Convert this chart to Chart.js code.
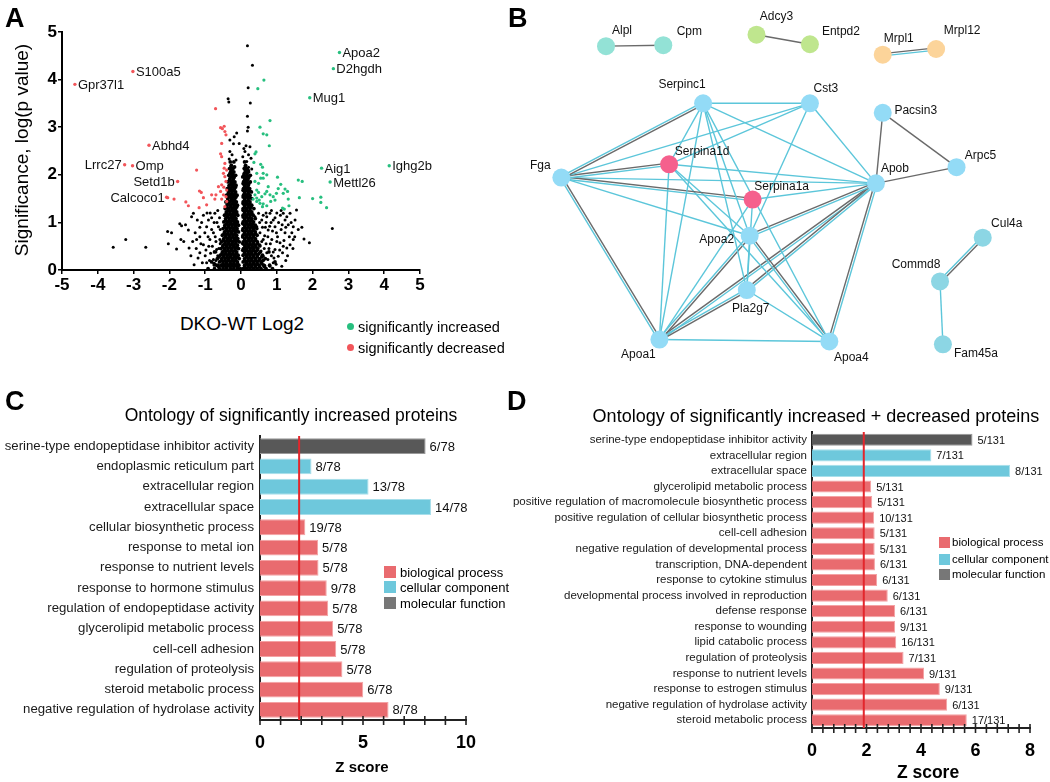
<!DOCTYPE html>
<html>
<head>
<meta charset="utf-8">
<script src="https://cdn.jsdelivr.net/npm/chart.js@4.4.0/dist/chart.umd.min.js"></script>
<style>
body{margin:0;background:#fff;font-family:"Liberation Sans",Arial,sans-serif;color:#000}
#fig{position:relative;width:1050px;height:782px;overflow:hidden}
canvas{position:absolute}
.t{position:absolute;white-space:nowrap;line-height:1}
.c{transform:translate(-50%,-50%)}
.letter{font-weight:bold;font-size:27px}
.sq{position:absolute;width:12px;height:12px}
.dot{position:absolute;width:7px;height:7px;border-radius:50%}
</style>
</head>
<body>
<div id="fig">
  <canvas id="volcano" width="520" height="300" style="left:0;top:0"></canvas>
  <canvas id="network" width="620" height="380" style="left:430px;top:0"></canvas>
  <canvas id="ontoC" width="520" height="412" style="left:0;top:370px"></canvas>
  <canvas id="ontoD" width="550" height="412" style="left:500px;top:370px"></canvas>

  <div class="t letter" style="left:5px;top:5px">A</div>
  <div class="t letter" style="left:508px;top:5px">B</div>
  <div class="t letter" style="left:5px;top:388px">C</div>
  <div class="t letter" style="left:507px;top:388px">D</div>

  <div class="t c" style="left:21px;top:150px;font-size:19px;transform:translate(-50%,-50%) rotate(-90deg)">Significance, log(p value)</div>
  <div class="t c" style="left:242px;top:323px;font-size:19px">DKO-WT Log2</div>
  <div class="dot" style="left:347px;top:323px;background:#27bf7f"></div>
  <div class="t" style="left:358px;top:320px;font-size:14.5px">significantly increased</div>
  <div class="dot" style="left:347px;top:344px;background:#f2555a"></div>
  <div class="t" style="left:358px;top:341px;font-size:14.5px">significantly decreased</div>

  <div class="t c" style="left:291px;top:416px;font-size:17.5px">Ontology of significantly increased proteins</div>
  <div class="t c" style="left:362px;top:766px;font-size:15px;font-weight:bold">Z score</div>
  <div class="sq" style="left:384px;top:566px;background:#e96b6f"></div>
  <div class="t" style="left:400px;top:566px;font-size:13px">biological process</div>
  <div class="sq" style="left:384px;top:581px;background:#6ec8dc"></div>
  <div class="t" style="left:400px;top:581px;font-size:13px">cellular component</div>
  <div class="sq" style="left:384px;top:597px;background:#777"></div>
  <div class="t" style="left:400px;top:597px;font-size:13px">molecular function</div>

  <div class="t c" style="left:816px;top:416px;font-size:18px">Ontology of significantly increased + decreased proteins</div>
  <div class="t c" style="left:928px;top:773px;font-size:17.5px;font-weight:bold">Z score</div>
  <div class="sq" style="left:939px;top:537px;width:11px;height:11px;background:#e96b6f"></div>
  <div class="t" style="left:952px;top:537px;font-size:11.5px">biological process</div>
  <div class="sq" style="left:939px;top:554px;width:11px;height:11px;background:#6ec8dc"></div>
  <div class="t" style="left:952px;top:554px;font-size:11.5px">cellular component</div>
  <div class="sq" style="left:939px;top:569px;width:11px;height:11px;background:#777"></div>
  <div class="t" style="left:952px;top:569px;font-size:11.5px">molecular function</div>
</div>

<script>
// ---------------- panel A : volcano ----------------
const upGenes = ['Apoa2', 'D2hgdh', 'Mug1', 'Aig1', 'Mettl26', 'Ighg2b'];
const upGeneLog2 = [2.75, 2.58, 1.92, 2.25, 2.49, 4.14];
const upGeneSig = [4.57, 4.23, 3.62, 2.14, 1.85, 2.19];
const downGenes = ['S100a5', 'Gpr37l1', 'Abhd4', 'Lrrc27', 'Omp', 'Setd1b', 'Calcoco1'];
const downGeneLog2 = [-3.02, -4.64, -2.57, -3.25, -3.03, -1.77, -2.05];
const downGeneSig = [4.17, 3.90, 2.62, 2.21, 2.19, 1.86, 1.52];

// other significantly increased / decreased proteins [log2, significance]
const upPoints = [[0.64,3.99],[0.47,3.81],[0.81,3.14],[0.53,3.00],[0.62,2.86],[0.72,2.84],[0.79,2.61],[0.42,2.48],
  [0.39,2.44],[0.36,2.26],[0.55,2.22],[0.60,2.16],[0.44,2.03],[0.62,2.03],[0.72,2.00],[0.55,1.93],[0.62,1.93],
  [1.02,1.95],[1.11,1.80],[1.60,1.89],[1.71,1.86],[1.23,1.70],[1.30,1.65],[1.18,1.61],[1.63,1.52],[2.00,1.50],
  [2.23,1.53],[2.23,1.42],[2.39,1.31],[1.32,1.49],[1.34,1.35],[1.16,1.30],[1.21,1.28],[0.44,1.68],[0.49,1.63],
  [0.39,1.58],[0.44,1.51],[0.51,1.47],[0.58,1.54],[0.67,1.60],[0.72,1.65],[0.81,1.58],[0.90,1.54],[0.95,1.47],
  [0.53,1.40],[0.62,1.39],[0.72,1.35],[0.44,1.44],[0.34,1.49],[0.83,1.44],[0.99,1.61],[1.04,1.71],[0.76,1.75],
  [0.39,1.86],[0.49,1.82],[0.60,1.33]];
const downPoints = [[-0.71,3.39],[-0.57,2.99],[-0.52,2.97],[-0.47,3.02],[-0.45,2.91],[-0.42,2.84],[-0.54,2.66],
  [-0.57,2.44],[-0.54,2.38],[-0.45,2.24],[-0.47,2.14],[-0.40,2.10],[-0.49,2.03],[-0.45,1.96],[-0.42,1.86],
  [-0.54,1.79],[-0.48,1.74],[-0.40,1.68],[-0.57,1.65],[-0.49,1.58],[-0.42,1.54],[-0.54,1.49],[-0.40,1.44],
  [-0.45,1.33],[-1.24,2.10],[-1.16,1.66],[-1.11,1.63],[-1.05,1.52],[-0.82,1.58],[-0.70,1.58],[-0.73,1.49],
  [-0.96,1.37],[-1.17,1.31],[-1.47,1.35],[-1.54,1.43],[-1.87,1.49],[-2.08,1.53],[-0.63,1.75]];
// non-significant proteins away from the central cloud
const otherPoints = [[0.18,4.71],[0.32,4.30],[0.20,3.83],[-0.36,3.60],[-0.34,3.53],[0.26,3.51],[0.18,3.23],
  [0.20,3.00],[0.18,2.92],[-0.12,2.88],[-0.19,2.80],[-0.31,2.73],[-0.21,2.65],[-0.05,2.66],[0.14,2.61],[0.25,2.59],
  [-0.31,2.49],[0.11,2.49],[0.21,2.42],[0.05,2.38],[-0.33,2.33],[-0.14,2.31],[0.16,2.28],[0.21,2.16],[-0.21,2.14],
  [-0.26,2.03],[0.28,2.35],[0.08,2.55],[-0.25,2.42],[0.30,2.12],
  [2.55,0.87],[1.91,0.57],[1.76,0.65],[1.55,1.26],[1.51,1.05],[1.46,0.91],[1.37,1.19],[1.28,1.12],[1.23,1.05],
  [1.18,1.19],[1.23,0.78],[1.42,0.78],[1.46,0.64],[1.37,0.53],[1.28,0.46],[1.16,0.36],[1.09,0.57],[0.99,0.78],
  [0.95,0.91],[0.90,1.05],[0.81,1.19],[0.72,1.12],[0.76,0.84],[0.86,0.64],[0.95,0.43],[1.04,0.29],[0.90,0.15],
  [0.81,0.08],[1.14,0.08],[0.62,0.29],[0.72,0.36],[0.53,0.50],[0.62,0.64],[0.53,0.78],[0.44,0.91],[0.58,1.05],
  [0.49,1.19],[0.39,1.12],[1.05,1.00],[1.12,0.85],[1.32,0.95],[1.00,0.60],[0.85,0.30],[0.70,0.55],[0.68,0.90],
  [0.60,0.20],[0.78,0.45],[1.20,0.62],[0.92,0.25],[1.60,0.85],[1.10,1.15],[0.66,0.72],[0.56,0.40],[0.84,1.00],
  [0.98,0.12],[1.30,0.30],[0.55,0.15],[0.65,0.45],[0.75,0.70],[0.88,0.82],[0.70,1.00],[0.60,0.90],[0.95,1.10],
  [1.02,0.70],[1.15,0.95],[1.25,0.90],[1.35,0.70],[1.40,1.00],[1.50,0.70],[1.18,0.50],[1.08,0.42],[0.82,0.55],
  [0.90,0.38],[0.75,0.22],[0.66,0.10],[1.25,0.20],[1.45,0.45],[1.70,0.90],[0.58,0.60],[0.80,0.92],[1.00,1.20],
  [0.70,1.20],[0.62,1.15],[0.85,1.25],[0.52,1.00],[1.12,1.25],
  [-3.57,0.48],[-3.22,0.64],[-2.66,0.48],[-2.05,0.81],[-2.03,0.55],[-1.94,0.78],[-1.80,0.44],[-1.68,0.64],
  [-1.66,0.93],[-1.71,0.97],[-1.47,0.84],[-1.45,0.46],[-1.38,1.12],[-1.33,1.19],[-1.28,0.78],[-1.24,0.64],
  [-1.31,0.11],[-1.15,0.36],[-1.05,0.53],[-1.01,0.78],[-0.96,0.91],[-0.91,1.05],[-0.87,0.64],[-0.77,0.78],
  [-0.73,1.19],[-0.68,0.43],[-0.63,0.91],[-0.59,0.64],[-0.77,0.22],[-0.96,0.15],[-0.63,0.11],[-1.10,1.00],
  [-0.85,0.35],[-1.20,0.25],[-0.70,0.60],[-0.82,1.10],[-1.00,0.30],[-0.90,0.50],[-0.75,1.00],[-1.15,0.70],
  [-0.65,0.30],[-1.40,0.30],[-0.95,1.20],[-0.60,1.10],[-0.70,0.20],[-1.25,0.45],[-0.55,0.20],[-0.62,0.45],
  [-0.72,0.70],[-0.82,0.85],[-0.67,1.00],[-0.58,0.85],[-0.88,0.20],[-1.08,0.15],[-0.92,0.70],[-1.15,0.90],
  [-1.22,1.05],[-0.80,0.50],[-0.98,0.42],[-1.35,0.60],[-1.55,0.95],[-1.60,0.60],[-0.70,0.38],[-0.86,1.20],
  [-0.65,1.25],[-1.05,1.15],[-0.58,0.55],[-0.75,0.10],[-1.12,0.55]];
// the dense central cloud, row by row: [significance, [log2 values]]
const coreRows = [
  [0.03, [-0.92,-0.74,-0.6,-0.5,-0.4,-0.3,-0.2,-0.1,-0.02,0.06,0.15,0.25,0.35,0.45,0.56,0.7,0.88]],
  [0.065, [-0.62,-0.5,-0.4,-0.3,-0.2,-0.1,0.1,0.2,0.3,0.4,0.52,0.66]],
  [0.10, [-0.68,-0.55,-0.45,-0.35,-0.25,-0.15,-0.06,0.1,0.2,0.3,0.4,0.5,0.63,0.8]],
  [0.135, [-0.75,-0.5,-0.4,-0.3,-0.2,-0.1,0.15,0.25,0.35,0.45,0.58]],
  [0.17, [-0.82,-0.6,-0.5,-0.4,-0.3,-0.2,-0.1,0.06,0.15,0.25,0.35,0.45,0.57,0.95]],
  [0.205, [-0.55,-0.45,-0.35,-0.25,-0.15,0.1,0.2,0.3,0.4,0.5,0.62]],
  [0.24, [-0.66,-0.54,-0.44,-0.34,-0.24,-0.14,-0.05,0.1,0.2,0.3,0.4,0.52,0.68]],
  [0.275, [-0.62,-0.49,-0.39,-0.29,-0.19,-0.1,0.15,0.25,0.35,0.45,0.58]],
  [0.31, [-0.58,-0.48,-0.38,-0.28,-0.18,-0.08,0.06,0.15,0.25,0.35,0.46,0.6]],
  [0.345, [-0.53,-0.43,-0.33,-0.23,-0.13,0.1,0.2,0.3,0.41,0.5]],
  [0.38, [-0.74,-0.52,-0.42,-0.32,-0.22,-0.12,0.1,0.2,0.3,0.4,0.54,0.78]],
  [0.415, [-0.47,-0.37,-0.27,-0.17,0.05,0.15,0.25,0.35,0.45]],
  [0.45, [-0.56,-0.46,-0.36,-0.26,-0.16,-0.07,0.07,0.16,0.26,0.36,0.47]],
  [0.485, [-0.51,-0.41,-0.31,-0.21,-0.12,0.12,0.22,0.32,0.42]],
  [0.52, [-0.5,-0.4,-0.3,-0.2,-0.1,0.1,0.2,0.3,0.4,0.52]],
  [0.555, [-0.45,-0.35,-0.25,-0.15,0.05,0.15,0.25,0.35,0.46]],
  [0.59, [-0.55,-0.44,-0.34,-0.24,-0.14,-0.05,0.06,0.15,0.25,0.35,0.46]],
  [0.625, [-0.49,-0.39,-0.29,-0.19,-0.1,0.11,0.21,0.31,0.41]],
  [0.66, [-0.48,-0.38,-0.28,-0.18,-0.09,0.1,0.2,0.3,0.4]],
  [0.695, [-0.43,-0.33,-0.23,-0.14,0.05,0.15,0.25,0.35]],
  [0.73, [-0.52,-0.42,-0.32,-0.22,-0.12,0.06,0.15,0.25,0.35,0.45]],
  [0.765, [-0.47,-0.37,-0.27,-0.17,0.1,0.2,0.3,0.4]],
  [0.80, [-0.46,-0.36,-0.26,-0.16,-0.07,0.1,0.2,0.3,0.4]],
  [0.835, [-0.41,-0.31,-0.21,-0.12,0.05,0.15,0.25,0.35]],
  [0.87, [-0.5,-0.4,-0.3,-0.2,-0.11,0.06,0.15,0.25,0.35,0.44]],
  [0.905, [-0.45,-0.35,-0.25,-0.16,0.11,0.2,0.3,0.38]],
  [0.94, [-0.45,-0.35,-0.25,-0.15,-0.07,0.1,0.2,0.3,0.4]],
  [0.975, [-0.4,-0.3,-0.2,-0.12,0.05,0.15,0.25,0.33]],
  [1.01, [-0.48,-0.38,-0.28,-0.18,-0.1,0.06,0.15,0.25,0.35]],
  [1.045, [-0.43,-0.33,-0.23,-0.15,0.1,0.2,0.3]],
  [1.08, [-0.43,-0.33,-0.23,-0.14,0.1,0.2,0.3,0.4]],
  [1.115, [-0.38,-0.28,-0.19,0.06,0.15,0.25]],
  [1.15, [-0.46,-0.36,-0.26,-0.17,-0.09,0.06,0.15,0.25,0.34]],
  [1.185, [-0.41,-0.31,-0.22,-0.13,0.1,0.2,0.3]],
  [1.22, [-0.41,-0.31,-0.21,-0.12,0.1,0.2,0.3]],
  [1.255, [-0.36,-0.26,-0.17,0.06,0.15,0.25]],
  [1.29, [-0.44,-0.34,-0.24,-0.15,0.06,0.15,0.25,0.36]],
  [1.325, [-0.39,-0.29,-0.2,-0.12,0.1,0.2,0.28]],
  [1.36, [-0.39,-0.29,-0.19,-0.1,0.1,0.2,0.3]],
  [1.395, [-0.34,-0.24,-0.16,0.06,0.15,0.24]],
  [1.43, [-0.42,-0.32,-0.22,-0.13,0.06,0.15,0.25]],
  [1.465, [-0.37,-0.27,-0.19,0.1,0.2]],
  [1.50, [-0.37,-0.27,-0.17,0.1,0.2,0.3]],
  [1.535, [-0.32,-0.23,-0.14,0.06,0.15,0.24]],
  [1.57, [-0.4,-0.3,-0.2,-0.11,0.07,0.15,0.25]],
  [1.605, [-0.35,-0.26,-0.17,0.1,0.2]],
  [1.64, [-0.35,-0.25,-0.15,0.1,0.2,0.29]],
  [1.675, [-0.3,-0.21,0.06,0.15,0.24]],
  [1.71, [-0.38,-0.28,-0.18,0.07,0.15,0.24]],
  [1.745, [-0.33,-0.24,-0.15,0.1,0.19]],
  [1.78, [-0.33,-0.23,-0.14,0.1,0.2]],
  [1.815, [-0.28,-0.2,0.06,0.15,0.22]],
  [1.85, [-0.36,-0.26,-0.17,0.07,0.16,0.26]],
  [1.885, [-0.32,-0.23,0.1,0.18]],
  [1.92, [-0.31,-0.21,0.11,0.2]],
  [1.955, [-0.27,-0.19,0.05,0.14,0.22]],
  [1.99, [-0.34,-0.24,-0.15,0.08,0.17,0.26]],
  [2.025, [-0.31,-0.23,0.09,0.17]],
  [2.06, [-0.29,-0.2,0.12,0.21]],
  [2.095, [-0.26,0.13,0.2]],
  [2.13, [-0.32,-0.23,0.09,0.17]],
  [2.165, [-0.28,-0.18,0.12]],
  [2.20, [-0.27,0.13]],
  [2.27, [-0.3,-0.2,0.1]]
];
const leftLabelled = ['Lrrc27', 'Setd1b', 'Calcoco1'];

// ---------------- panel B : network ----------------
const nodeNames = ['Alpl','Cpm','Adcy3','Entpd2','Mrpl1','Mrpl12','Serpinc1','Cst3','Pacsin3','Serpina1d','Fga',
  'Arpc5','Apob','Serpina1a','Apoa2','Cul4a','Commd8','Pla2g7','Apoa1','Apoa4','Fam45a'];
const nodeX = [172, 231, 327, 382, 457, 512, 272, 382, 457, 237, 126, 533, 450, 323, 320, 560, 516, 317, 227, 402, 519];
const nodeY = [39, 38, 27, 37, 48, 42, 99, 99, 109, 163, 177, 166, 183, 200, 238, 240, 286, 295, 347, 349, 352];
const nodeGroup = ['g1','g1','g2','g2','g3','g3','main','main','main','serpin','main','main','main','serpin','main',
  'g4','g4','main','main','main','g4'];
// edges: c = text-mining (cyan), g = co-expression (grey), cg = both
const edges = [['Alpl','Cpm','g'],['Adcy3','Entpd2','g'],['Mrpl1','Mrpl12','cg'],
  ['Serpinc1','Cst3','c'],['Serpinc1','Fga','cg'],['Serpinc1','Serpina1d','c'],['Serpinc1','Apob','c'],
  ['Serpinc1','Apoa1','c'],['Serpinc1','Apoa2','c'],['Serpinc1','Pla2g7','c'],['Serpinc1','Apoa4','c'],
  ['Cst3','Fga','c'],['Cst3','Serpina1d','c'],['Cst3','Apoa2','c'],['Cst3','Apob','c'],
  ['Pacsin3','Apob','g'],['Pacsin3','Arpc5','g'],['Arpc5','Apob','g'],
  ['Fga','Serpina1d','cg'],['Fga','Serpina1a','cg'],['Fga','Apob','c'],['Fga','Apoa2','c'],['Fga','Apoa1','cg'],
  ['Serpina1d','Apob','c'],['Serpina1d','Apoa2','c'],['Serpina1d','Apoa4','c'],['Serpina1d','Apoa1','c'],
  ['Serpina1a','Apob','c'],['Serpina1a','Apoa1','c'],['Serpina1a','Pla2g7','c'],
  ['Apoa2','Apob','cg'],['Apoa2','Apoa1','cg'],['Apoa2','Apoa4','cg'],['Apoa2','Pla2g7','c'],
  ['Pla2g7','Apoa1','cg'],['Pla2g7','Apob','cg'],['Pla2g7','Apoa4','c'],
  ['Apoa1','Apoa4','c'],['Apoa1','Apob','cg'],['Apoa4','Apob','cg'],
  ['Cul4a','Commd8','cg'],['Commd8','Fam45a','c']];

// ---------------- panel C / D : ontology ----------------
const termsC = ['serine-type endopeptidase inhibitor activity','endoplasmic reticulum part','extracellular region',
  'extracellular space','cellular biosynthetic process','response to metal ion','response to nutrient levels',
  'response to hormone stimulus','regulation of endopeptidase activity','glycerolipid metabolic process',
  'cell-cell adhesion','regulation of proteolysis','steroid metabolic process','negative regulation of hydrolase activity'];
const zC = [8.04, 2.50, 5.27, 8.30, 2.20, 2.82, 2.84, 3.24, 3.31, 3.55, 3.70, 4.00, 5.01, 6.24];
const countsC = ['6/78','8/78','13/78','14/78','19/78','5/78','5/78','9/78','5/78','5/78','5/78','5/78','6/78','8/78'];
const kindC = ['MF','CC','CC','CC','BP','BP','BP','BP','BP','BP','BP','BP','BP','BP'];

const termsD = ['serine-type endopeptidase inhibitor activity','extracellular region','extracellular space',
  'glycerolipid metabolic process','positive regulation of macromolecule biosynthetic process',
  'positive regulation of cellular biosynthetic process','cell-cell adhesion',
  'negative regulation of developmental process','transcription, DNA-dependent','response to cytokine stimulus',
  'developmental process involved in reproduction','defense response','response to wounding',
  'lipid catabolic process','regulation of proteolysis','response to nutrient levels',
  'response to estrogen stimulus','negative regulation of hydrolase activity','steroid metabolic process'];
const zD = [5.89, 4.38, 7.27, 2.17, 2.21, 2.28, 2.30, 2.30, 2.31, 2.39, 2.78, 3.05, 3.05, 3.09, 3.36, 4.11, 4.69, 4.96, 5.68];
const countsD = ['5/131','7/131','8/131','5/131','5/131','10/131','5/131','5/131','6/131','6/131','6/131','6/131',
  '9/131','16/131','7/131','9/131','9/131','6/131','17/131'];
const kindD = ['MF','CC','CC','BP','BP','BP','BP','BP','BP','BP','BP','BP','BP','BP','BP','BP','BP','BP','BP'];
const zThreshold = 1.9;

// ---------------- styling ----------------
const FONT = '"Liberation Sans", Arial, sans-serif';
Chart.defaults.font.family = FONT;
Chart.defaults.color = '#000';
const GREEN = '#27bf7f', RED = '#f2555a';
const kindFill = {BP: '#e96b6f', CC: '#6ec8dc', MF: '#585858'};
const kindEdge = {BP: '#f4a2a4', CC: '#a8dfeb', MF: '#999999'};
const nodeColor = {g1: '#93e2d6', g2: '#bfe68e', g3: '#fcd49a', g4: '#8cd6e4', main: '#93dbf6', serpin: '#f5608d'};
const labelOffset = {Alpl:[16,-15], Cpm:[26,-14], Adcy3:[20,-18], Entpd2:[31,-13], Mrpl1:[16,-16], Mrpl12:[26,-18],
  Serpinc1:[-21,-19], Cst3:[16,-15], Pacsin3:[33,-2], Serpina1d:[33,-13], Fga:[-21,-12], Arpc5:[24,-11],
  Apob:[19,-15], Serpina1a:[29,-13], Apoa2:[-33,4], Cul4a:[24,-14], Commd8:[-24,-17], Pla2g7:[4,19],
  Apoa1:[-21,15], Apoa4:[22,16], Fam45a:[33,9]};

const toXY = arr => arr.map(p => ({x: p[0], y: p[1]}));

// ---------- A ----------
const geneLabels = {
  id: 'geneLabels',
  afterDatasetsDraw(chart) {
    const {ctx, scales: {x, y}} = chart;
    ctx.save();
    ctx.font = '13px ' + FONT;
    ctx.fillStyle = '#111';
    ctx.textBaseline = 'middle';
    const put = (names, xs, ys) => names.forEach((n, i) => {
      const px = x.getPixelForValue(xs[i]), py = y.getPixelForValue(ys[i]);
      const left = leftLabelled.includes(n);
      ctx.textAlign = left ? 'right' : 'left';
      ctx.fillText(n, left ? px - 3 : px + 3, py + 1);
    });
    put(upGenes, upGeneLog2, upGeneSig);
    put(downGenes, downGeneLog2, downGeneSig);
    ctx.restore();
  }
};

const corePoints = coreRows.flatMap(([y, xs]) => xs.map(x => ({x, y})));

new Chart(document.getElementById('volcano'), {
  type: 'scatter',
  data: {
    datasets: [
      {data: upGeneLog2.map((v, i) => ({x: v, y: upGeneSig[i]})), backgroundColor: GREEN, pointRadius: 1.7},
      {data: downGeneLog2.map((v, i) => ({x: v, y: downGeneSig[i]})), backgroundColor: RED, pointRadius: 1.7},
      {data: toXY(upPoints), backgroundColor: GREEN, pointRadius: 1.6},
      {data: toXY(downPoints), backgroundColor: RED, pointRadius: 1.6},
      {data: toXY(otherPoints), backgroundColor: '#000', pointRadius: 1.5},
      {data: corePoints, backgroundColor: '#000', pointRadius: 1.9}
    ]
  },
  options: {
    responsive: false, animation: false,
    layout: {padding: {left: 0, right: 100, top: 32, bottom: 0}},
    plugins: {legend: {display: false}, tooltip: {enabled: false}},
    elements: {point: {borderWidth: 0}},
    scales: {
      x: {
        type: 'linear', min: -5, max: 5,
        ticks: {stepSize: 1, autoSkip: false, padding: 1, color: '#000', font: {size: 17, weight: 'bold'}},
        grid: {drawOnChartArea: false, tickLength: 4, color: '#000', lineWidth: 1.5},
        border: {color: '#000', width: 2},
        afterFit(s) { s.height = 30; }
      },
      y: {
        type: 'linear', min: 0, max: 5,
        ticks: {stepSize: 1, padding: 1, color: '#000', font: {size: 17, weight: 'bold'}},
        grid: {drawOnChartArea: false, tickLength: 4, color: '#000', lineWidth: 1.5},
        border: {color: '#000', width: 2},
        afterFit(s) { s.width = 62; }
      }
    }
  },
  plugins: [geneLabels]
});

// ---------- B ----------
const idx = name => nodeNames.indexOf(name);
const edgeSets = [];
edges.forEach(([a, b, kind]) => {
  const i = idx(a), j = idx(b);
  const dx = nodeX[j] - nodeX[i], dy = nodeY[j] - nodeY[i];
  const len = Math.hypot(dx, dy);
  const ox = -dy / len * 1.2, oy = dx / len * 1.2;
  const line = (shift, color) => edgeSets.push({
    data: [{x: nodeX[i] + ox * shift, y: nodeY[i] + oy * shift}, {x: nodeX[j] + ox * shift, y: nodeY[j] + oy * shift}],
    showLine: true, pointRadius: 0, borderColor: color, borderWidth: 1.4, order: 2
  });
  if (kind === 'c') line(0, '#5cc6da');
  if (kind === 'g') line(0, '#6a6a6a');
  if (kind === 'cg') { line(-1, '#6a6a6a'); line(1, '#5cc6da'); }
});

const nodeLabels = {
  id: 'nodeLabels',
  afterDatasetsDraw(chart) {
    const {ctx, scales: {x, y}} = chart;
    ctx.save();
    ctx.font = '12px ' + FONT;
    ctx.fillStyle = '#111';
    ctx.textAlign = 'center';
    ctx.textBaseline = 'middle';
    nodeNames.forEach((n, i) => {
      const off = labelOffset[n];
      ctx.fillText(n, x.getPixelForValue(nodeX[i]) + off[0], y.getPixelForValue(nodeY[i]) + off[1]);
    });
    ctx.restore();
  }
};

new Chart(document.getElementById('network'), {
  type: 'scatter',
  data: {
    datasets: [
      {data: nodeX.map((v, i) => ({x: v, y: nodeY[i]})), pointRadius: 9, borderWidth: 0,
       backgroundColor: nodeGroup.map(g => nodeColor[g]), order: 0},
      ...edgeSets
    ]
  },
  options: {
    responsive: false, animation: false,
    layout: {padding: 0},
    plugins: {legend: {display: false}, tooltip: {enabled: false}},
    scales: {
      x: {type: 'linear', min: 0, max: 620, display: false},
      y: {type: 'linear', min: 0, max: 380, reverse: true, display: false}
    }
  },
  plugins: [nodeLabels]
});

// ---------- C & D ----------
function ontologyChart(id, terms, z, counts, kinds, look) {
  const extras = {
    id: 'ontoExtras',
    afterDatasetsDraw(chart) {
      const {ctx, chartArea, scales: {x, y}} = chart;
      ctx.save();
      // counts at the bar ends
      ctx.font = look.countFont + 'px ' + FONT;
      ctx.fillStyle = '#111';
      ctx.textBaseline = 'middle';
      ctx.textAlign = 'left';
      counts.forEach((c, i) => ctx.fillText(c, x.getPixelForValue(z[i]) + look.countGap, y.getPixelForValue(i) + 1));
      // threshold line
      const tx = x.getPixelForValue(zThreshold);
      ctx.strokeStyle = '#e3262c';
      ctx.lineWidth = 2;
      ctx.beginPath();
      ctx.moveTo(tx, chartArea.top);
      ctx.lineTo(tx, chartArea.bottom);
      ctx.stroke();
      ctx.restore();
    },
    afterDraw(chart) {
      const {ctx, chartArea, scales: {x}} = chart;
      ctx.save();
      ctx.strokeStyle = '#222';
      ctx.lineWidth = 1.6;
      x.ticks.forEach((t, i) => {
        const px = x.getPixelForTick(i);
        ctx.beginPath();
        ctx.moveTo(px, chartArea.bottom - 4);
        ctx.lineTo(px, chartArea.bottom + 5);
        ctx.stroke();
      });
      ctx.restore();
    }
  };
  return new Chart(document.getElementById(id), {
    type: 'bar',
    data: {
      labels: terms,
      datasets: [{
        data: z,
        backgroundColor: kinds.map(k => kindFill[k]),
        borderColor: kinds.map(k => kindEdge[k]),
        borderWidth: 1,
        barPercentage: 0.78,
        categoryPercentage: 1
      }]
    },
    options: {
      indexAxis: 'y',
      responsive: false, animation: false,
      layout: {padding: {left: 0, right: look.padRight, top: look.padTop, bottom: 0}},
      plugins: {legend: {display: false}, tooltip: {enabled: false}},
      scales: {
        x: {
          type: 'linear', min: 0, max: look.max,
          ticks: {
            stepSize: look.step, autoSkip: false, maxRotation: 0, padding: look.tickPad, color: '#000',
            font: {size: look.tickFont, weight: 'bold'},
            callback: v => { const r = Math.round(v * 10) / 10; return r % look.major === 0 ? r : ''; }
          },
          grid: {display: false, drawTicks: false},
          border: {color: '#222', width: 2},
          afterFit(s) { s.height = look.xHeight; }
        },
        y: {
          ticks: {autoSkip: false, padding: look.labelPad, color: '#1a1a1a', font: {size: look.termFont}},
          grid: {display: false, drawTicks: false},
          border: {color: '#222', width: 2},
          afterFit(s) { s.width = look.yWidth; }
        }
      }
    },
    plugins: [extras]
  });
}

ontologyChart('ontoC', termsC, zC, countsC, kindC,
  {max: 10, step: 1, major: 5, padRight: 54, padTop: 66, xHeight: 62, yWidth: 260, tickFont: 18, tickPad: 12,
   termFont: 13.2, labelPad: 6, countFont: 13, countGap: 4});
ontologyChart('ontoD', termsD, zD, countsD, kindD,
  {max: 8, step: 0.4, major: 2, padRight: 20, padTop: 62, xHeight: 54, yWidth: 312, tickFont: 18, tickPad: 12,
   termFont: 11.5, labelPad: 5, countFont: 11, countGap: 5});
</script>
</body>
</html>
